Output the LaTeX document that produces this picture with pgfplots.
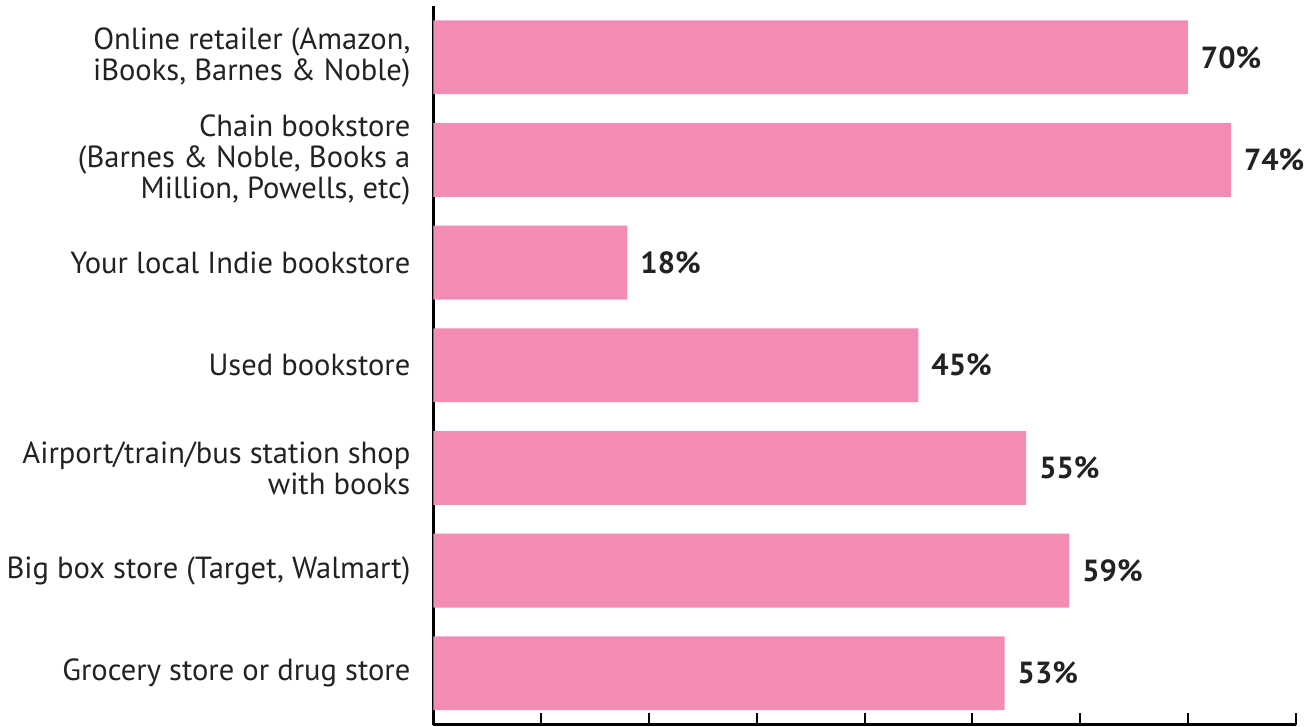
\documentclass[border=0pt]{standalone}
\usepackage{pgfplots}
\pgfplotsset{compat=1.18}
\usepackage{fontspec}
\setmainfont{PT Sans}
\definecolor{barpink}{HTML}{F28CB4}
\definecolor{txt}{HTML}{222222}
\begin{document}
\begin{tikzpicture}
\begin{axis}[
 scale only axis, width=432pt, height=360pt,
 xbar, bar width=37pt,
 xmin=0, xmax=80, ymin=-0.5, ymax=6.5,
 axis lines=left, axis line style={-, line width=1.2pt, black},
 xtick={0,10,...,80}, xticklabels={}, tick align=inside, major tick length=6pt,
 xticklabel style={inner sep=0pt, outer sep=0pt, overlay},
 xtick style={line width=1pt, black},
 ytick={0,...,6}, ytick style={draw=none},
 yticklabels={{Grocery store or drug store},{Big box store (Target, Walmart)},{Airport/train/bus station shop\\with books},{Used bookstore},{Your local Indie bookstore},{Chain bookstore\\(Barnes \& Noble, Books a\\Million, Powells, etc)},{Online retailer (Amazon,\\iBooks, Barnes \& Noble)}},
 yticklabel style={align=right, font=\fontsize{15.3}{15.5}\selectfont, text=txt, xshift=-8pt},
 nodes near coords={\pgfmathprintnumber[assume math mode=true]{\pgfplotspointmeta}\%},
 nodes near coords style={font=\fontsize{15.3}{16}\selectfont\bfseries, text=txt, anchor=west, xshift=3pt},
 point meta=x,
 clip=false,
]
\addplot[fill=barpink, draw=none] coordinates {(53,0) (59,1) (55,2) (45,3) (18,4) (74,5) (70,6)};
\end{axis}
\path ([yshift=3pt]current axis.north west) -- ([yshift=-1pt]current axis.south west);
\end{tikzpicture}
\end{document}
